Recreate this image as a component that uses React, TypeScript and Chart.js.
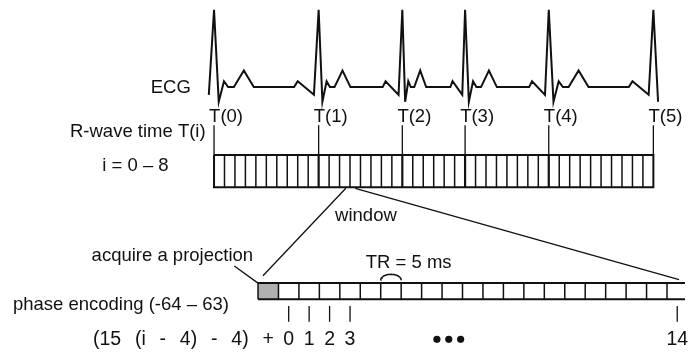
import { useEffect, useRef } from "react";
import { Chart, registerables } from "chart.js";

Chart.register(...registerables);

// ---------------- data ----------------
const rWaveLabels = ["T(0)", "T(1)", "T(2)", "T(3)", "T(4)", "T(5)"];
const rWaveCell = [0, 10, 18, 24, 32, 42]; // R-wave times, in window-grid cell units
const gridCellCount = 42;
const encodingCellCount = 21;
const acquiredCells = [0];
const encodingTickCells = [1, 2, 3, 4, 20];
const encodingTickLabels = ["0", "1", "2", "3", "14"];
const trCell = 6;
const windowCell = [12.6, 13.5]; // window edges under the grid
const formulaTokens = ["(15", "(i", "-", "4)", "-", "4)", "+"];
// ECG beat template: phase within an R-R interval and amplitude (R peak = 1)
const ecgPhase = [0.045, 0.095, 0.135, 0.19, 0.285, 0.38, 0.765, 0.8, 0.955, 1];
const ecgAmp = [-0.19, 0.076, 0, 0, 0.215, 0, 0, 0.076, -0.1, 1];
const ecgLeadPhase = -0.05;
const ecgLeadAmp = -0.1;

// ---------------- layout ----------------
const W = 689;
const H = 357;
const FAMILY = '"Liberation Sans", Arial, Helvetica, sans-serif';
const FONT = `18.5px ${FAMILY}`;
const FORMULA_FONT = `19.5px ${FAMILY}`;
const L = {
  gridX0: 212.5,
  gridX1: 657,
  gridTop: 154.5,
  gridBottom: 187.5,
  ecgBase: 85,
  ecgPeak: 6,
  tTickTop: 124,
  tLabelY: 116,
  rowX0: 257,
  rowCellW: 20.69,
  rowTop: 285.5,
  rowBottom: 302,
  winLeftEnd: { x: 262, y: 278 },
  winRightEnd: { x: 683, y: 282 },
  leaderStart: { x: 233, y: 268 },
  tickTop: 309,
  tickBottom: 325,
  bottomY: 343,
  formulaX0: 90,
  formulaX1: 273,
  arcRise: 6,
};
const cellW = (L.gridX1 - L.gridX0) / gridCellCount;
const gx = (c: number) => L.gridX0 + c * cellW;
const rx = (c: number) => L.rowX0 + c * L.rowCellW;
const ecgY = (a: number) => L.ecgBase - a * (L.ecgBase - L.ecgPeak);

type P = { x: number; y: number | null };
const GAP = (x: number): P => ({ x, y: null });

function segs(list: [number, number, number, number][]): P[] {
  const out: P[] = [];
  list.forEach(([x1, y1, x2, y2]) => {
    out.push({ x: x1, y: y1 }, { x: x2, y: y2 }, GAP(x2));
  });
  return out;
}

function buildEcg(): P[] {
  const rx0 = rWaveCell.map(gx);
  const pts: P[] = [];
  const rr0 = rx0[1] - rx0[0];
  pts.push({ x: rx0[0] + ecgLeadPhase * rr0, y: ecgY(ecgLeadAmp) });
  pts.push({ x: rx0[0], y: ecgY(1) });
  for (let i = 0; i < rx0.length - 1; i++) {
    const rr = rx0[i + 1] - rx0[i];
    ecgPhase.forEach((ph, k) => pts.push({ x: rx0[i] + ph * rr, y: ecgY(ecgAmp[k]) }));
  }
  const last = rx0[rx0.length - 1];
  const rrLast = last - rx0[rx0.length - 2];
  pts.push({ x: last + ecgPhase[0] * rrLast, y: ecgY(ecgAmp[0]) });
  return pts;
}

function buildArc(): P[] {
  const x1 = rx(trCell);
  const x2 = rx(trCell + 1);
  const pts: P[] = [];
  for (let k = 0; k <= 20; k++) {
    const t = Math.PI - (k / 20) * Math.PI;
    pts.push({ x: (x1 + x2) / 2 + (Math.cos(t) * (x2 - x1)) / 2, y: L.rowTop - 3 - Math.sin(t) * L.arcRise });
  }
  return pts;
}

export default function App() {
  const ref = useRef<HTMLCanvasElement | null>(null);
  useEffect(() => {
    if (!ref.current) return;

    const tXs = rWaveCell.map(gx);
    const innerCells: number[] = [];
    for (let c = 1; c < gridCellCount; c++) if (!rWaveCell.includes(c)) innerCells.push(c);
    const tInner = rWaveCell.filter((c) => c > 0 && c < gridCellCount);

    const rowVert: number[] = [];
    for (let c = 0; c <= encodingCellCount; c++) rowVert.push(c);

    const texts: { t: string; x: number; y: number; a: CanvasTextAlign }[] = [
      { t: "ECG", x: 189, y: 86, a: "right" },
      { t: "R-wave time T(i)", x: 204, y: 131, a: "right" },
      { t: "i = 0 \u2013 8", x: 133, y: 166, a: "center" },
      ...rWaveLabels.map((s, i) => ({ t: s, x: tXs[i] - 5, y: L.tLabelY, a: "left" as CanvasTextAlign })),
      { t: "window", x: 335, y: 217, a: "left" },
      { t: "acquire a projection", x: 252, y: 258, a: "right" },
      { t: "TR = 5 ms", x: 366, y: 265, a: "left" },
      { t: "phase encoding (-64 \u2013 63)", x: 9, y: 308, a: "left" },
    ];

    const textPlugin = {
      id: "diagramText",
      afterDatasetsDraw(chart: any) {
        const ctx = chart.ctx as CanvasRenderingContext2D;
        const xs = chart.scales.x;
        const ys = chart.scales.y;
        ctx.save();
        ctx.fillStyle = "#111";
        ctx.font = FONT;
        ctx.textBaseline = "middle";
        texts.forEach((o) => {
          ctx.textAlign = o.a;
          ctx.fillText(o.t, xs.getPixelForValue(o.x), ys.getPixelForValue(o.y));
        });
        // bottom formula and encoding indices
        ctx.font = FORMULA_FONT;
        ctx.textAlign = "center";
        encodingTickLabels.forEach((s, i) => {
          ctx.fillText(s, xs.getPixelForValue(rx(encodingTickCells[i] + 0.5)), ys.getPixelForValue(L.bottomY));
        });
        const widths = formulaTokens.map((t) => ctx.measureText(t).width);
        const total = widths.reduce((s, w) => s + w, 0);
        const x0 = xs.getPixelForValue(L.formulaX0);
        const x1 = xs.getPixelForValue(L.formulaX1);
        const gap = (x1 - x0 - total) / (formulaTokens.length - 1);
        let cx = x0;
        ctx.textAlign = "left";
        formulaTokens.forEach((t, i) => {
          ctx.fillText(t, cx, ys.getPixelForValue(L.bottomY));
          cx += widths[i] + gap;
        });
        ctx.restore();
      },
    };

    const line = (data: P[], width: number, extra: any = {}) => ({
      data,
      showLine: true,
      borderColor: "#111",
      borderWidth: width,
      pointRadius: 0,
      pointHoverRadius: 0,
      fill: false,
      spanGaps: false,
      tension: 0,
      borderCapStyle: "butt",
      borderJoinStyle: "miter",
      ...extra,
    });

    const grayFill: P[] = [];
    acquiredCells.forEach((c) => {
      grayFill.push(
        { x: rx(c), y: L.rowTop },
        { x: rx(c + 1), y: L.rowTop },
        { x: rx(c + 1), y: L.rowBottom },
        { x: rx(c), y: L.rowBottom },
        { x: rx(c), y: L.rowTop }
      );
    });

    const chart = new Chart(ref.current, {
      type: "scatter",
      data: {
        datasets: [
          line(buildEcg(), 2),
          line(segs(tXs.map((x) => [x, L.tTickTop, x, L.gridTop])), 1.3),
          line(
            [
              { x: L.gridX0, y: L.gridTop },
              { x: L.gridX1, y: L.gridTop },
              { x: L.gridX1, y: L.gridBottom },
              { x: L.gridX0, y: L.gridBottom },
              { x: L.gridX0, y: L.gridTop },
            ],
            2
          ),
          line(segs(innerCells.map((c) => [gx(c), L.gridTop, gx(c), L.gridBottom])), 1.5),
          line(segs(tInner.map((c) => [gx(c), L.gridTop, gx(c), L.gridBottom])), 2.2),
          line(
            segs([
              [gx(windowCell[0]), L.gridBottom + 1, L.winLeftEnd.x, L.winLeftEnd.y],
              [gx(windowCell[1]), L.gridBottom + 1, L.winRightEnd.x, L.winRightEnd.y],
              [L.leaderStart.x, L.leaderStart.y, rx(0), L.rowTop],
            ]),
            1.3
          ),
          line(
            segs([
              [rx(0), L.rowTop, rx(encodingCellCount), L.rowTop],
              [rx(0), L.rowBottom, rx(encodingCellCount), L.rowBottom],
            ]),
            2
          ),
          line(segs(rowVert.map((c) => [rx(c), L.rowTop, rx(c), L.rowBottom])), 1.5),
          line(buildArc(), 1.5),
          line(
            segs(encodingTickCells.map((c) => [rx(c + 0.5), L.tickTop, rx(c + 0.5), L.tickBottom])),
            1.3
          ),
          {
            data: [
              { x: 438, y: L.bottomY },
              { x: 450, y: L.bottomY },
              { x: 462, y: L.bottomY },
            ],
            showLine: false,
            pointRadius: 3.6,
            pointBackgroundColor: "#111",
            pointBorderWidth: 0,
          },
          line(grayFill, 0, { fill: "shape", backgroundColor: "#b0b0b0", order: 10 }),
        ],
      },
      options: {
        animation: false,
        responsive: false,
        devicePixelRatio: 1,
        layout: { padding: 0 },
        events: [],
        plugins: { legend: { display: false }, tooltip: { enabled: false } },
        scales: {
          x: { type: "linear", min: 0, max: W, display: false },
          y: { type: "linear", min: 0, max: H, reverse: true, display: false },
        },
      } as any,
      plugins: [textPlugin],
    } as any);
    return () => chart.destroy();
  }, []);

  return (
    <div style={{ position: "fixed", left: 0, top: 0, width: W, height: H, background: "#fff" }}>
      <canvas ref={ref} width={W} height={H} style={{ width: W, height: H, display: "block" }} />
    </div>
  );
}
